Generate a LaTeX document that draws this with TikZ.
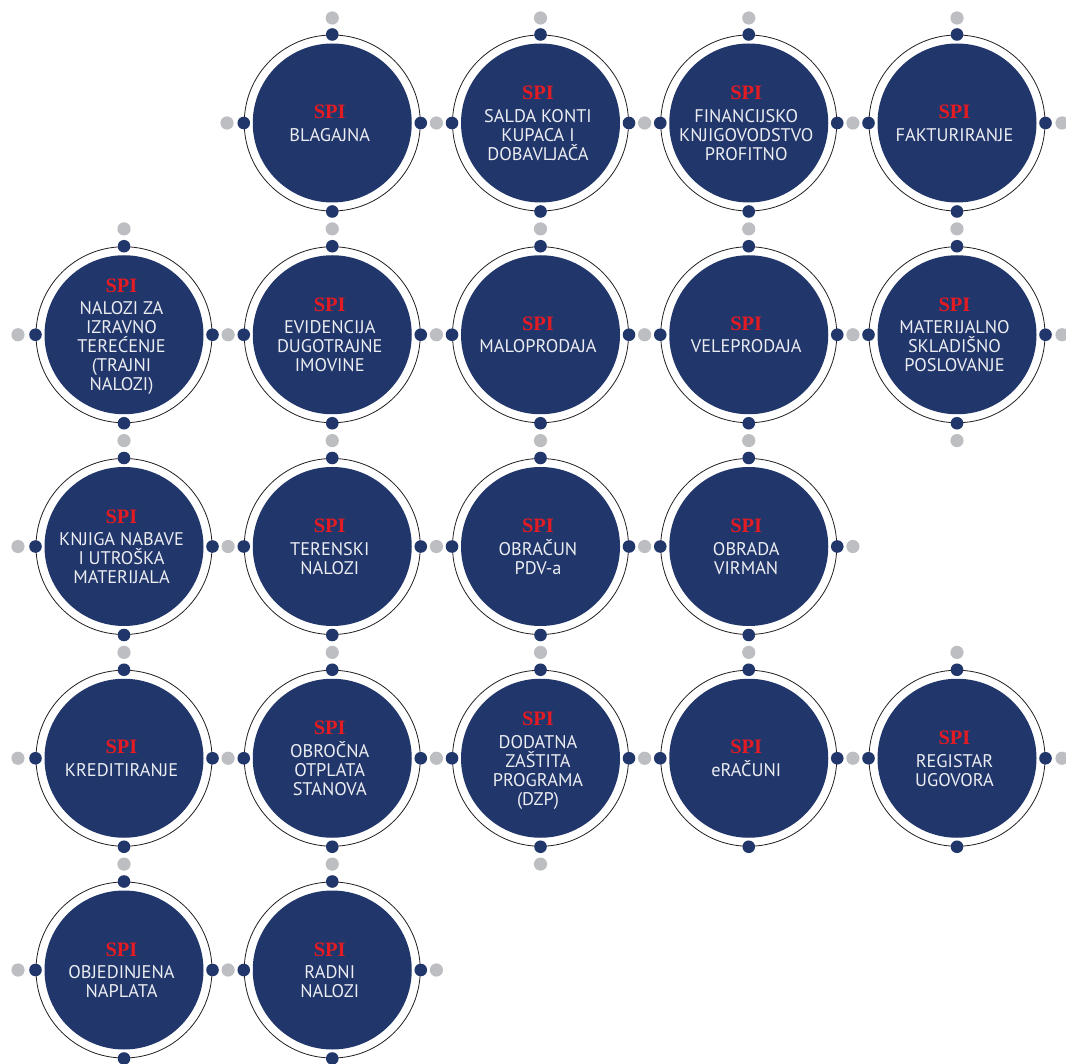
\documentclass[tikz,border=0pt]{standalone}
\usepackage{fontspec}
\setmainfont{PT Sans}
\newfontfamily\spifont{Liberation Serif}
\definecolor{navy}{RGB}{33,54,107}
\definecolor{spired}{RGB}{227,27,35}
\definecolor{dotgray}{RGB}{188,190,193}
\definecolor{ringc}{RGB}{35,31,32}
\definecolor{txtc}{RGB}{236,237,242}
\tikzset{
  modfill/.style={circle, fill=navy, minimum size=159pt, inner sep=0pt},
  ringline/.style={draw=ringc, line width=0.8pt},
  navydot/.style={fill=navy},
  graydot/.style={fill=dotgray},
  spitxt/.style={text=spired, font=\spifont\bfseries\fontsize{20.5}{22}\selectfont, inner sep=0pt},
  bodytxt/.style={text=txtc, font=\fontsize{18.3}{19}\selectfont, inner sep=0pt},
}
\newcommand\spimod[4]{%
  \node[modfill] (#1) at (#2,#3) {};
  \draw[ringline] (#1.center) circle[radius=88pt];
  \fill[navydot] (#1.center) ++(0,-88.5) circle[radius=6.3pt];
  \fill[navydot] (#1.center) ++(0,88.5) circle[radius=6.3pt];
  \fill[navydot] (#1.center) ++(-88.5,0) circle[radius=6.3pt];
  \fill[navydot] (#1.center) ++(88.5,0) circle[radius=6.3pt];
  \foreach \txt [count=\i] in {#4} {\xdef\nlines{\i}}
  \pgfmathsetmacro\ys{#3 - (23.3+(\nlines-1)*19)/2 + 0.5}
  \pgfmathsetmacro\tx{#2-2.5}
  \pgfmathsetmacro\sy{\ys+6.8}
  \node[spitxt, anchor=base] (#1-spi) at (\tx, \sy) {SPI};
  \foreach \txt [count=\i] in {#4} {
    \pgfmathsetmacro\ly{\ys+23.3+(\i-1)*19+6.1}
    \node[bodytxt, anchor=base] (#1-l\i) at (\tx, \ly) {\txt};
  }
}
\begin{document}
\begin{tikzpicture}[x=1pt, y=-1pt]
\useasboundingbox (0,0) rectangle (1066,1064);
\fill[white] (0,0) rectangle (1066,1064);
% gray dots
\foreach \gx/\gy in {
  332.25/18, 540.5/18, 748.75/18, 957/18,
  227/123, 436.4/123, 644.6/123, 852.9/123, 1062/123,
  124/228.9, 332.25/228.9, 540.5/228.9, 748.75/228.9, 957/228.9,
  18/334.75, 228.1/334.75, 436.4/334.75, 644.6/334.75, 852.9/334.75, 1062/334.75,
  124/440.6, 332.25/440.6, 540.5/440.6, 748.75/440.6, 957/440.6,
  18/546.5, 228.1/546.5, 436.4/546.5, 644.6/546.5, 852.9/546.5,
  124/652.4, 332.25/652.4, 540.5/652.4, 748.75/652.4, 957/652.4,
  18/758.25, 228.1/758.25, 436.4/758.25, 644.6/758.25, 852.9/758.25, 1062/758.25,
  124/864.1, 332.25/864.1, 540.5/864.1,
  18/970, 228.1/970, 436.4/970}
  {\fill[graydot] (\gx,\gy) circle[radius=6.6pt];}
% row 1
\spimod{blag}{332.25}{123}{BLAGAJNA}
\spimod{salda}{540.5}{123}{SALDA KONTI, KUPACA I, DOBAVLJAČA}
\spimod{finan}{748.75}{123}{FINANCIJSKO, KNJIGOVODSTVO, PROFITNO}
\spimod{faktu}{957}{123}{FAKTURIRANJE}
% row 2
\spimod{nalozi}{124}{334.75}{NALOZI ZA, IZRAVNO, TEREĆENJE, {(TRAJNI}, {NALOZI)}}
\spimod{evid}{332.25}{334.75}{EVIDENCIJA, DUGOTRAJNE, IMOVINE}
\spimod{malo}{540.5}{334.75}{MALOPRODAJA}
\spimod{vele}{748.75}{334.75}{VELEPRODAJA}
\spimod{mater}{957}{334.75}{MATERIJALNO, SKLADIŠNO, POSLOVANJE}
% row 3
\spimod{knjiga}{124}{546.5}{KNJIGA NABAVE, I UTROŠKA, MATERIJALA}
\spimod{teren}{332.25}{546.5}{TERENSKI, NALOZI}
\spimod{pdv}{540.5}{546.5}{OBRAČUN, PDV-a}
\spimod{virman}{748.75}{546.5}{OBRADA, VIRMAN}
% row 4
\spimod{kredit}{124}{758.25}{KREDITIRANJE}
\spimod{obrocna}{332.25}{758.25}{OBROČNA, OTPLATA, STANOVA}
\spimod{dzp}{540.5}{758.25}{DODATNA, ZAŠTITA, PROGRAMA, {(DZP)}}
\spimod{eracuni}{748.75}{758.25}{eRAČUNI}
\spimod{registar}{957}{758.25}{REGISTAR, UGOVORA}
% row 5
\spimod{objed}{124}{970}{OBJEDINJENA, NAPLATA}
\spimod{radni}{332.25}{970}{RADNI, NALOZI}
\end{tikzpicture}
\end{document}
